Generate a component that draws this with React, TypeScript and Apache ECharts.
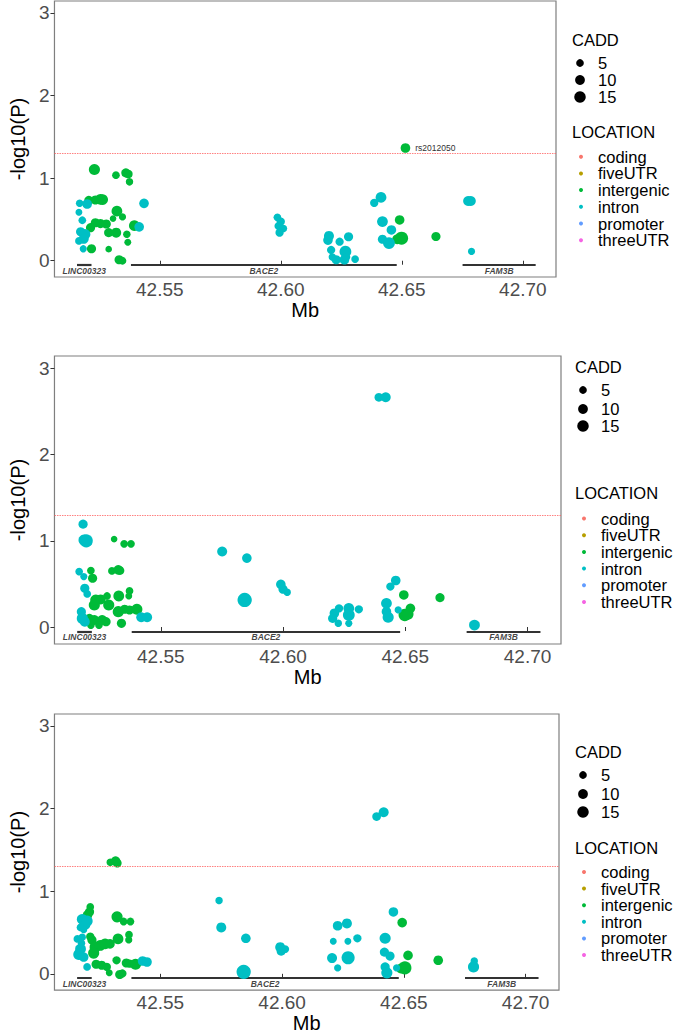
import React, { useEffect, useRef } from "react";
import * as echarts from "echarts";

// ---------- data ----------
const X_TICKS = [42.55, 42.6, 42.65, 42.7];
const Y_TICKS = [0, 1, 2, 3];
const P_THRESHOLD = 0.05;
const CADD_LEGEND = [5, 10, 15];
const LOCATIONS = ["coding", "fiveUTR", "intergenic", "intron", "promoter", "threeUTR"];
const LOCATION_COLORS = ["#F8766D", "#B79F00", "#00BA38", "#00BFC4", "#619CFF", "#F564E3"];

// genes: [name, start Mb, end Mb]
const GENES: [string, number, number][] = [
  ["LINC00323", 42.5158, 42.5218],
  ["BACE2", 42.5381, 42.6479],
  ["FAM3B", 42.6751, 42.7053],
];

// points: [position Mb, -log10(P), CADD]
const P1_INTERGENIC = [
  [42.523, 1.105, 11], [42.5319, 1.036, 3], [42.536, 1.064, 6], [42.537, 1.05, 5], [42.5375, 0.955, 2.5],
  [42.5207, 0.73, 6], [42.5234, 0.735, 6], [42.5255, 0.743, 10], [42.5264, 0.74, 10], [42.5323, 0.6, 10],
  [42.5307, 0.51, 1], [42.5346, 0.53, 2], [42.5234, 0.46, 6], [42.5255, 0.45, 6], [42.5279, 0.445, 6],
  [42.5214, 0.4, 6], [42.5395, 0.425, 10], [42.5289, 0.34, 6], [42.532, 0.34, 8], [42.5364, 0.32, 2.5],
  [42.5368, 0.225, 1.5], [42.5218, 0.145, 6], [42.5289, 0.14, 1], [42.5332, 0.012, 6], [42.5346, 0.0, 3],
  [42.6491, 0.494, 7], [42.6481, 0.26, 8], [42.6499, 0.273, 17], [42.6641, 0.293, 6],
];
const P1_INTRON = [
  [42.5169, 0.695, 2.5], [42.52, 0.687, 7], [42.5435, 0.695, 7], [42.5166, 0.586, 1.5], [42.518, 0.49, 3],
  [42.5415, 0.41, 7], [42.5173, 0.35, 6], [42.5191, 0.32, 10], [42.5186, 0.265, 8], [42.5166, 0.24, 3],
  [42.5184, 0.145, 2],
  [42.5986, 0.526, 3], [42.6, 0.474, 4], [42.5991, 0.42, 4], [42.6011, 0.39, 2.5], [42.5995, 0.34, 4],
  [42.6199, 0.3, 8], [42.6195, 0.25, 7], [42.6243, 0.23, 4], [42.628, 0.29, 6], [42.6208, 0.13, 4],
  [42.6267, 0.11, 13], [42.6213, 0.045, 2.5], [42.6229, 0.012, 6], [42.6263, 0.012, 7], [42.6307, 0.02, 3],
  [42.627, 0.045, 4],
  [42.6414, 0.767, 10], [42.6386, 0.7, 4], [42.642, 0.474, 10], [42.6457, 0.373, 7], [42.642, 0.26, 6],
  [42.6447, 0.213, 13],
  [42.6785, 0.723, 8], [42.6774, 0.723, 8], [42.6788, 0.112, 2],
];
const P1_LABELED = [{ name: "rs2012050", value: [42.6515, 1.365, 7] }];

const P2_INTERGENIC = [
  [42.5309, 1.02, 1], [42.535, 0.965, 3], [42.5378, 0.965, 3],
  [42.5214, 0.655, 3], [42.5221, 0.566, 6], [42.53, 0.651, 3], [42.5326, 0.663, 7], [42.5333, 0.655, 5],
  [42.5372, 0.419, 3], [42.5369, 0.36, 1.5], [42.5328, 0.36, 10], [42.528, 0.36, 3],
  [42.5234, 0.314, 11], [42.5254, 0.32, 8], [42.5228, 0.256, 11], [42.5287, 0.256, 11],
  [42.5208, 0.1, 6], [42.5228, 0.081, 8], [42.526, 0.081, 8], [42.5276, 0.062, 6], [42.5247, 0.023, 3],
  [42.5214, 0.023, 3], [42.5326, 0.178, 11], [42.5339, 0.043, 6], [42.5352, 0.206, 6], [42.5372, 0.198, 6],
  [42.5402, 0.206, 11],
  [42.6494, 0.372, 7], [42.6521, 0.217, 7], [42.6498, 0.14, 15], [42.6511, 0.15, 11], [42.6642, 0.341, 6],
];
const P2_INTRON = [
  [42.5182, 1.194, 6], [42.5186, 1.01, 11], [42.5195, 1.0, 17],
  [42.5166, 0.643, 3], [42.5185, 0.585, 2], [42.5189, 0.45, 6], [42.5199, 0.384, 3],
  [42.5175, 0.178, 6], [42.5179, 0.1, 11], [42.5189, 0.062, 8], [42.542, 0.113, 8], [42.5444, 0.113, 8],
  [42.5751, 0.876, 8], [42.5852, 0.8, 7], [42.5843, 0.314, 21],
  [42.5991, 0.496, 7], [42.6, 0.438, 6], [42.6017, 0.403, 2.5],
  [42.6229, 0.217, 4], [42.621, 0.16, 7], [42.6203, 0.1, 6], [42.6226, 0.043, 2.5],
  [42.6269, 0.217, 10], [42.6269, 0.14, 13], [42.6269, 0.043, 2], [42.631, 0.206, 4],
  [42.6392, 2.666, 5], [42.642, 2.666, 8],
  [42.6461, 0.54, 7], [42.6439, 0.47, 4], [42.6423, 0.275, 10], [42.6423, 0.178, 7], [42.643, 0.113, 11],
  [42.6471, 0.198, 2],
  [42.6783, 0.023, 10],
];

const P3_INTERGENIC = [
  [42.5294, 1.35, 2.5], [42.5316, 1.365, 7], [42.5323, 1.34, 5],
  [42.5212, 0.81, 3], [42.5209, 0.75, 6], [42.5201, 0.714, 7],
  [42.5322, 0.69, 11], [42.5349, 0.633, 3], [42.5377, 0.633, 3],
  [42.5212, 0.45, 4], [42.5219, 0.41, 6], [42.5326, 0.422, 10], [42.5371, 0.474, 3], [42.537, 0.41, 2],
  [42.5232, 0.323, 11], [42.5253, 0.343, 10], [42.5273, 0.362, 10], [42.5293, 0.362, 7], [42.5226, 0.251, 11],
  [42.5236, 0.116, 6], [42.5259, 0.104, 6], [42.528, 0.084, 4], [42.529, 0.012, 1.5], [42.532, 0.164, 4],
  [42.5333, -0.008, 6], [42.5344, 0.004, 4], [42.536, 0.131, 6], [42.5374, 0.123, 4], [42.5398, 0.116, 11],
  [42.6493, 0.62, 7], [42.6517, 0.223, 7], [42.6488, 0.064, 8], [42.6504, 0.072, 17], [42.6641, 0.164, 7],
];
const P3_INTRON = [
  [42.5179, 0.66, 10], [42.5199, 0.64, 11], [42.5192, 0.594, 8], [42.5172, 0.562, 3], [42.5185, 0.534, 2],
  [42.5159, 0.422, 3], [42.5179, 0.442, 2.5], [42.5176, 0.37, 2.5],
  [42.5172, 0.3, 10], [42.5165, 0.235, 11], [42.5185, 0.203, 7], [42.5199, 0.084, 3],
  [42.5427, 0.155, 7], [42.5445, 0.143, 7],
  [42.5741, 0.888, 2.5], [42.575, 0.562, 8], [42.5851, 0.43, 7], [42.5842, 0.024, 21],
  [42.5992, 0.323, 8], [42.6013, 0.3, 3], [42.5996, 0.275, 6],
  [42.6228, 0.582, 7], [42.6266, 0.61, 8], [42.621, 0.394, 1.5], [42.627, 0.394, 1.5], [42.6309, 0.43, 4],
  [42.6205, 0.191, 8], [42.6271, 0.195, 17], [42.6228, 0.072, 2],
  [42.6388, 1.904, 5], [42.6417, 1.956, 8],
  [42.6457, 0.749, 7], [42.6423, 0.43, 11], [42.642, 0.263, 6], [42.6443, 0.215, 6], [42.6423, 0.084, 6],
  [42.643, 0.012, 11], [42.647, 0.072, 2],
  [42.6786, 0.084, 11], [42.6789, 0.155, 2.5],
];

const PANELS = [
  { intergenic: P1_INTERGENIC, intron: P1_INTRON, labeled: P1_LABELED },
  { intergenic: P2_INTERGENIC, intron: P2_INTRON, labeled: [] as any[] },
  { intergenic: P3_INTERGENIC, intron: P3_INTRON, labeled: [] as any[] },
];

// ---------- layout / style ----------
const FONT = "'Liberation Sans', Arial, Helvetica, sans-serif";
const X_MIN = 42.5065;
const X_MAX = 42.7137;
const Y_MIN = -0.197;
const Y_MAX = 3.145;
const GENE_Y = -0.05;
const GENE_LABEL_Y = -0.12;
const GRIDS = [
  { left: 47.5, top: 1, width: 508.5, height: 276, yNameGap: 17.5 },
  { left: 36.5, top: 356, width: 524.5, height: 288, yNameGap: 13 },
  { left: 43, top: 714, width: 516, height: 280, yNameGap: 18 },
];
const LEGENDS = [
  { x: 572, cadd: 40, sizes: [63, 80, 97], loc: 132, rows: 156.7, step: 16.7 },
  { x: 575, cadd: 367, sizes: [390, 409, 426], loc: 493, rows: 518.5, step: 16.7 },
  { x: 575, cadd: 752, sizes: [775, 794, 812], loc: 848, rows: 872, step: 16.6 },
];

const sizeOf = (c: number) => Math.sqrt(36 + 8 * c);

function buildOption() {
  const grid: any[] = [];
  const xAxis: any[] = [];
  const yAxis: any[] = [];
  const series: any[] = [];
  const graphic: any[] = [];

  GRIDS.forEach((g, i) => {
    grid.push({
      left: g.left, top: g.top, width: g.width, height: g.height,
      show: true, borderColor: "#7f7f7f", borderWidth: 1.2, backgroundColor: "transparent",
      containLabel: false,
    });
    xAxis.push({
      type: "value", gridIndex: i, min: X_MIN, max: X_MAX,
      axisLine: { show: false },
      axisTick: { show: true, length: 4, customValues: X_TICKS, lineStyle: { color: "#333" } },
      axisLabel: {
        customValues: X_TICKS, formatter: (v: number) => v.toFixed(2),
        fontSize: 19, color: "#4d4d4d", fontFamily: FONT, margin: 3,
      },
      splitLine: { show: false },
      name: "Mb", nameLocation: "middle", nameGap: 22,
      nameTextStyle: { fontSize: 20, color: "#000", fontFamily: FONT, verticalAlign: "top" },
    });
    yAxis.push({
      type: "value", gridIndex: i, min: Y_MIN, max: Y_MAX,
      axisLine: { show: false },
      axisTick: { show: true, length: 4, customValues: Y_TICKS, lineStyle: { color: "#333" } },
      axisLabel: {
        customValues: Y_TICKS, formatter: (v: number) => String(v),
        fontSize: 19, color: "#4d4d4d", fontFamily: FONT, margin: 5,
      },
      splitLine: { show: false },
      name: "-log10(P)", nameLocation: "middle", nameRotate: 90, nameGap: g.yNameGap,
      nameTextStyle: { fontSize: 20, color: "#000", fontFamily: FONT },
    });

    const p = PANELS[i];
    const labeled = p.labeled.map((d: any) => ({
      name: d.name, value: d.value,
      label: {
        show: true, position: "right", distance: 5, formatter: d.name,
        fontSize: 8.5, color: "#333", fontFamily: FONT,
      },
    }));
    series.push({
      type: "scatter", name: "intergenic", xAxisIndex: i, yAxisIndex: i,
      data: [...p.intergenic, ...labeled],
      symbolSize: (v: number[]) => sizeOf(v[2]),
      itemStyle: { color: LOCATION_COLORS[2], opacity: 1 },
      silent: true,
    });
    series.push({
      type: "scatter", name: "intron", xAxisIndex: i, yAxisIndex: i,
      data: p.intron,
      symbolSize: (v: number[]) => sizeOf(v[2]),
      itemStyle: { color: LOCATION_COLORS[3], opacity: 1 },
      silent: true,
      markLine: {
        silent: true, symbol: ["none", "none"], label: { show: false },
        lineStyle: { color: "#FF6060", type: [1.5, 1], width: 1, opacity: 0.8 },
        data: [{ yAxis: -Math.log10(P_THRESHOLD) }],
      },
    });
    series.push({
      type: "lines", coordinateSystem: "cartesian2d", xAxisIndex: i, yAxisIndex: i,
      data: GENES.map(([name, s, e]) => ({ name, coords: [[s, GENE_Y], [e, GENE_Y]] })),
      lineStyle: { color: "#333", width: 2.2, opacity: 1 },
      silent: true,
    });
    series.push({
      type: "scatter", xAxisIndex: i, yAxisIndex: i, symbolSize: 0, silent: true,
      data: GENES.map(([name, s, e]) => ({ name, value: [(s + e) / 2, GENE_LABEL_Y] })),
      label: {
        show: true, position: "inside", formatter: (d: any) => d.name,
        fontSize: 8.5, fontStyle: "italic", fontWeight: "bold", color: "#111", fontFamily: FONT,
      },
    });

    // legend (graphic)
    const L = LEGENDS[i];
    const txt = (text: string, x: number, y: number) => ({
      type: "text", x, y,
      style: { text, fontSize: 16.5, fontFamily: FONT, fill: "#000", verticalAlign: "middle", align: "left" },
    });
    graphic.push(txt("CADD", L.x, L.cadd));
    CADD_LEGEND.forEach((c, k) => {
      graphic.push({ type: "circle", shape: { cx: L.x + 8, cy: L.sizes[k], r: sizeOf(c) / 2 - 0.5 }, style: { fill: "#000" } });
      graphic.push(txt(String(c), L.x + 26, L.sizes[k]));
    });
    graphic.push(txt("LOCATION", L.x, L.loc));
    LOCATIONS.forEach((name, k) => {
      const y = L.rows + k * L.step;
      graphic.push({ type: "circle", shape: { cx: L.x + 9, cy: y, r: 2 }, style: { fill: LOCATION_COLORS[k] } });
      graphic.push(txt(name, L.x + 26, y));
    });
  });

  return { animation: false, backgroundColor: "#fff", grid, xAxis, yAxis, series, graphic };
}

export default function App() {
  const ref = useRef<HTMLDivElement>(null);
  useEffect(() => {
    if (!ref.current) return;
    const chart = echarts.init(ref.current, undefined, { renderer: "svg" });
    chart.setOption(buildOption() as any);
    return () => chart.dispose();
  }, []);
  return (
    <div
      ref={ref}
      style={{ position: "absolute", left: 0, top: 0, width: 685, height: 1034, background: "#fff" }}
    />
  );
}
